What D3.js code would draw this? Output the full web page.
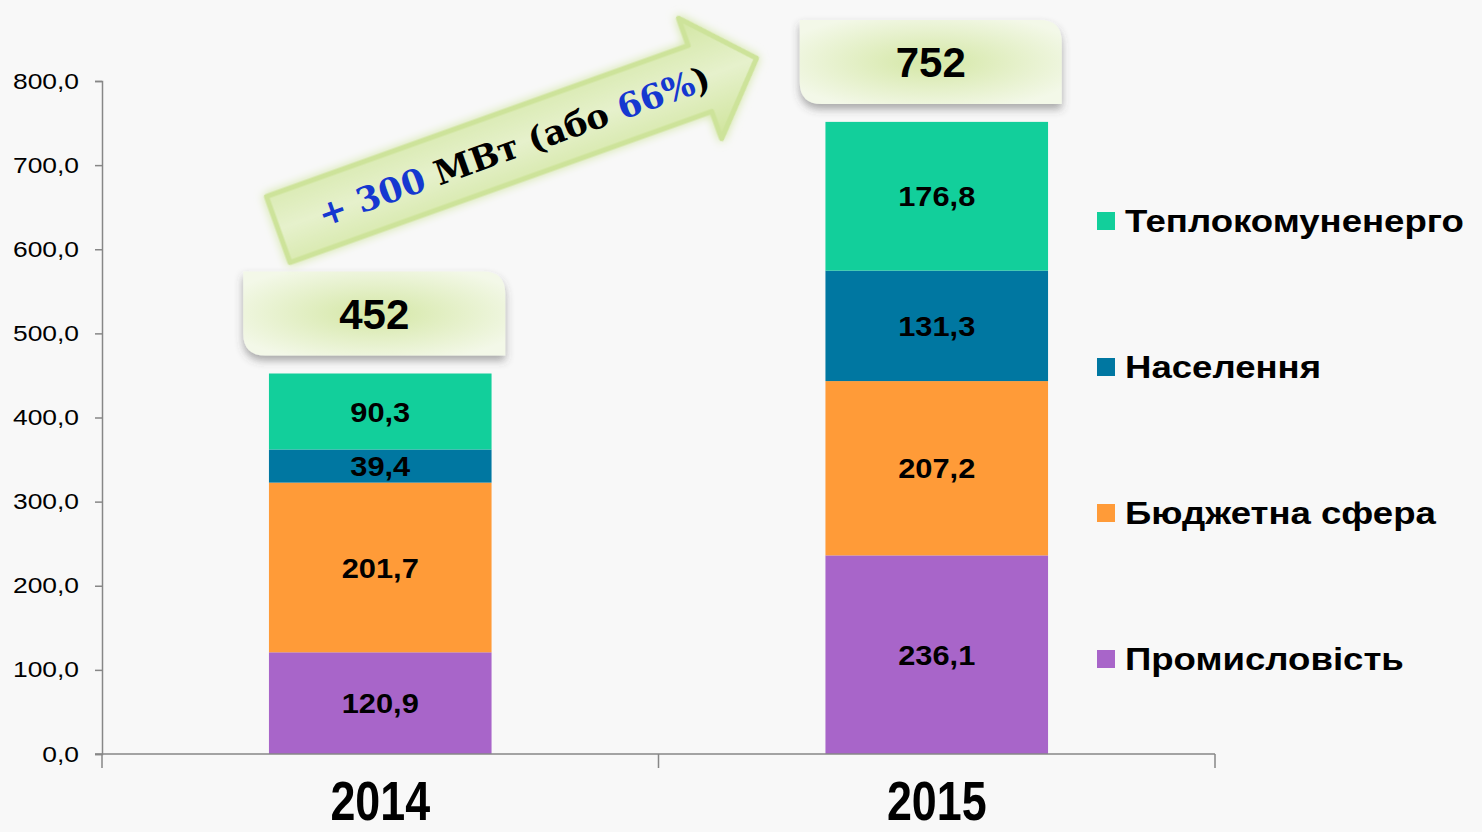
<!DOCTYPE html>
<html>
<head>
<meta charset="utf-8">
<script src="https://cdn.jsdelivr.net/npm/d3@7"></script>
<style>
body { margin: 0; background: #f8f8f8; }
svg { display: block; font-family: "Liberation Sans", Arial, sans-serif; }
</style>
</head>
<body>
<script>
"use strict";

// data
var years = ["2014", "2015"];
var series_names = ["Промисловість", "Бюджетна сфера", "Населення", "Теплокомуненерго"];
var series_colors = ["#a865c9", "#ff9b38", "#0077a1", "#12cf9b"];
var industry = [120.9, 236.1];
var budget = [201.7, 207.2];
var population = [39.4, 131.3];
var heating = [90.3, 176.8];
var totals = [452, 752];
var y_ticks = [0, 100, 200, 300, 400, 500, 600, 700, 800];

function fmt_comma(v) {
    return d3.format(".1f")(v).replace(".", ",");
}

// the slide is stretched sideways, so text gets a horizontal scale
function place(sel, x, y, sx) {
    return sel.attr("transform", "translate(" + x + "," + y + ") scale(" + sx + ",1)");
}

function box_path(x0, y0, w, h, r) {
    return "M" + x0 + "," + y0 +
        "H" + (x0 + w - r) +
        "Q" + (x0 + w) + "," + y0 + " " + (x0 + w) + "," + (y0 + r) +
        "V" + (y0 + h) +
        "H" + (x0 + r) +
        "Q" + x0 + "," + (y0 + h) + " " + x0 + "," + (y0 + h - r) +
        "Z";
}

function draw_chart() {
    var width = 1482;
    var height = 832;
    var svg = d3.select("body")
        .append("svg")
        .attr("width", width)
        .attr("height", height);

    var defs = svg.append("defs");

    var rg = defs.append("radialGradient").attr("id", "boxfill")
        .attr("cx", "50%").attr("cy", "50%").attr("r", "60%");
    rg.append("stop").attr("offset", "0%").attr("stop-color", "#d4e7a5");
    rg.append("stop").attr("offset", "100%").attr("stop-color", "#f3f8e8");

    var shadow = defs.append("filter").attr("id", "shadow")
        .attr("x", "-10%").attr("y", "-10%").attr("width", "120%").attr("height", "140%");
    shadow.append("feDropShadow")
        .attr("dx", 0).attr("dy", 5).attr("stdDeviation", 4)
        .attr("flood-color", "#444").attr("flood-opacity", 0.45);

    var ag = defs.append("linearGradient").attr("id", "arrowfill")
        .attr("x1", 0).attr("y1", 0).attr("x2", 0).attr("y2", 1);
    ag.append("stop").attr("offset", "0%").attr("stop-color", "#d2e6a2");
    ag.append("stop").attr("offset", "50%").attr("stop-color", "#e6f1cc");
    ag.append("stop").attr("offset", "100%").attr("stop-color", "#cfe49b");

    var glow = defs.append("filter").attr("id", "glow")
        .attr("x", "-10%").attr("y", "-30%").attr("width", "120%").attr("height", "160%");
    glow.append("feGaussianBlur").attr("in", "SourceGraphic")
        .attr("stdDeviation", 5).attr("result", "blur");
    var merge = glow.append("feMerge");
    merge.append("feMergeNode").attr("in", "blur");
    merge.append("feMergeNode").attr("in", "SourceGraphic");

    // scales
    var x = d3.scaleBand()
        .domain(years)
        .range([102, 1215])
        .paddingInner(0.6)
        .paddingOuter(0.3);
    var y = d3.scaleLinear()
        .domain([0, 800])
        .range([754, 81]);

    var rows = years.map(function(yr, i) {
        var r = { "year": yr };
        r[series_names[0]] = industry[i];
        r[series_names[1]] = budget[i];
        r[series_names[2]] = population[i];
        r[series_names[3]] = heating[i];
        return r;
    });
    var stacked = d3.stack().keys(series_names)(rows);

    // bars
    var layer = svg.selectAll("g.layer")
        .data(stacked)
        .enter()
        .append("g")
        .attr("class", "layer")
        .attr("fill", function(d, i) { return series_colors[i]; });
    layer.selectAll("rect")
        .data(function(d) { return d; })
        .enter()
        .append("rect")
        .attr("x", function(d) { return x(d.data.year); })
        .attr("y", function(d) { return y(d[1]); })
        .attr("width", x.bandwidth())
        .attr("height", function(d) { return y(d[0]) - y(d[1]); });

    // value labels
    layer.selectAll("text")
        .data(function(d) { return d; })
        .enter()
        .append("text")
        .attr("text-anchor", "middle")
        .attr("dy", "0.36em")
        .attr("font-size", 28)
        .attr("font-weight", "bold")
        .attr("fill", "#000")
        .each(function(d) {
            place(d3.select(this), x(d.data.year) + x.bandwidth() / 2,
                  (y(d[0]) + y(d[1])) / 2, 1.1);
        })
        .text(function(d) { return fmt_comma(d[1] - d[0]); });

    // y axis
    var y_axis = svg.append("g")
        .attr("transform", "translate(102,0)")
        .call(d3.axisLeft(y).tickValues(y_ticks).tickSize(7).tickFormat(fmt_comma));
    y_axis.select(".domain").attr("stroke", "#878787").attr("stroke-width", 1.5);
    y_axis.selectAll(".tick line").attr("stroke", "#878787").attr("stroke-width", 1.5);
    y_axis.selectAll(".tick text")
        .attr("font-size", 22)
        .attr("font-family", "\"Liberation Sans\", Arial, sans-serif")
        .attr("fill", "#000")
        .attr("x", -23 / 1.2)
        .attr("transform", "scale(1.2,1)");

    // x axis
    var x_axis = svg.append("g").attr("class", "xaxis");
    x_axis.append("line")
        .attr("x1", 95).attr("x2", x.range()[1])
        .attr("y1", y(0)).attr("y2", y(0))
        .attr("stroke", "#878787").attr("stroke-width", 1.5);
    var bounds = [x.range()[0]].concat(years.map(function(yr) {
        return x(yr) - x.step() * x.paddingInner() / 2 + x.step();
    }));
    x_axis.selectAll("line.tk")
        .data(bounds)
        .enter()
        .append("line")
        .attr("class", "tk")
        .attr("x1", function(d) { return d; })
        .attr("x2", function(d) { return d; })
        .attr("y1", y(0)).attr("y2", y(0) + 14)
        .attr("stroke", "#878787").attr("stroke-width", 1.5);
    x_axis.selectAll("text")
        .data(years)
        .enter()
        .append("text")
        .attr("text-anchor", "middle")
        .attr("font-size", 56)
        .attr("font-weight", "bold")
        .attr("fill", "#000")
        .each(function(d) {
            place(d3.select(this), x(d) + x.bandwidth() / 2, 820, 0.8);
        })
        .text(function(d) { return d; });

    // total boxes
    var box_w = 262;
    var box_h = 84;
    var box_gap = 18;
    var boxes = svg.selectAll("g.total")
        .data(years)
        .enter()
        .append("g")
        .attr("class", "total");
    boxes.append("path")
        .attr("d", function(d, i) {
            var cx = x(d) + x.bandwidth() / 2 - 6;
            var bottom = y(d3.sum(stacked, function(s) { return s[i][1] - s[i][0]; })) - box_gap;
            return box_path(cx - box_w / 2, bottom - box_h, box_w, box_h, 22);
        })
        .attr("fill", "url(#boxfill)")
        .attr("filter", "url(#shadow)");
    boxes.append("text")
        .attr("text-anchor", "middle")
        .attr("font-size", 42)
        .attr("font-weight", "bold")
        .attr("fill", "#000")
        .attr("x", function(d) { return x(d) + x.bandwidth() / 2 - 6; })
        .attr("y", function(d, i) {
            var bottom = y(d3.sum(stacked, function(s) { return s[i][1] - s[i][0]; })) - box_gap;
            return bottom - box_h / 2 + 15;
        })
        .text(function(d, i) { return totals[i]; });

    // growth arrow from the 2014 box towards the 2015 box
    var gain = totals[1] - totals[0];
    var pct = Math.round(gain / totals[0] * 100);
    var a0x = x(years[0]) + x.bandwidth() / 2 - 6 - box_w / 2 + 35;
    var a0y = y(d3.sum(stacked, function(s) { return s[0][1] - s[0][0]; })) - box_gap - box_h - 42;
    var arrow = svg.append("g")
        .attr("transform", "translate(" + a0x + "," + a0y + ") rotate(-19.7)");
    var shaft = 35, head = 64, len = 508, head_len = 60;
    arrow.append("path")
        .attr("d", "M0," + (-shaft) + "H" + (len - head_len) + "V" + (-head) +
                   "L" + len + ",0L" + (len - head_len) + "," + head +
                   "V" + shaft + "H0Z")
        .attr("fill", "url(#arrowfill)")
        .attr("stroke", "#cde39a")
        .attr("stroke-width", 5)
        .attr("stroke-linejoin", "round")
        .attr("filter", "url(#glow)");
    var label = arrow.append("text")
        .attr("x", 250)
        .attr("y", 13)
        .attr("text-anchor", "middle")
        .attr("font-family", "\"DejaVu Serif\", \"Liberation Serif\", serif")
        .attr("font-size", 34)
        .attr("font-weight", "bold");
    label.append("tspan").attr("fill", "#1538d0").text("+ " + gain);
    label.append("tspan").attr("fill", "#000").text(" МВт (або ");
    label.append("tspan").attr("fill", "#1538d0").text(pct + "%");
    label.append("tspan").attr("fill", "#000").text(")");

    // legend, top row is the last series
    var legend = svg.selectAll("g.legend")
        .data(series_names.slice().reverse())
        .enter()
        .append("g")
        .attr("class", "legend")
        .attr("transform", function(d, i) { return "translate(1097," + (221 + i * 146) + ")"; });
    legend.append("rect")
        .attr("x", 0).attr("y", -9)
        .attr("width", 18).attr("height", 18)
        .attr("fill", function(d) { return series_colors[series_names.indexOf(d)]; });
    legend.append("text")
        .attr("dy", "0.36em")
        .attr("font-size", 31)
        .attr("font-weight", "bold")
        .attr("fill", "#000")
        .each(function() { place(d3.select(this), 28, 0, 1.18); })
        .text(function(d) { return d; });
}

// run
draw_chart();
</script>
</body>
</html>
